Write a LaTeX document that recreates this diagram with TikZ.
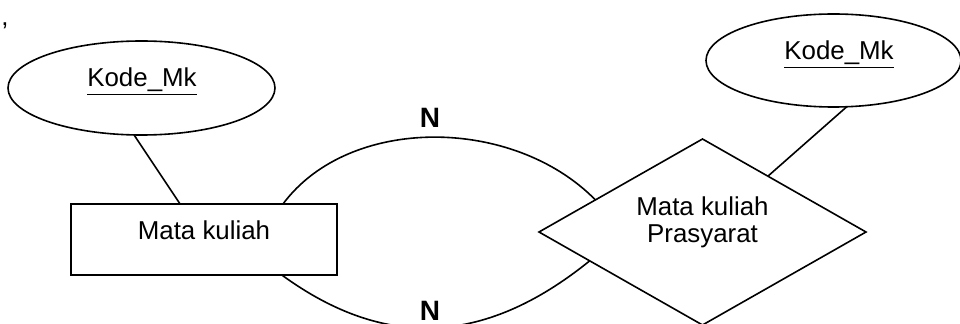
\documentclass[tikz,border=0pt]{standalone}
\usepackage{fontspec}
\setmainfont{Liberation Sans}
\usetikzlibrary{shapes.geometric,calc}

\begin{document}
\begin{tikzpicture}[x=0.75pt,y=-0.75pt,
  conn/.style={line width=1.2pt},
  shapebox/.style={draw,line width=1.2pt,inner sep=0pt,outer sep=0pt},
  attr/.style={shapebox,ellipse},
  entity/.style={shapebox,rectangle},
  relation/.style={shapebox,diamond},
  lbl/.style={font=\fontsize{19.4}{21.2}\selectfont,inner sep=0pt,anchor=base},
  card/.style={font=\fontsize{21}{23}\selectfont\bfseries,inner sep=0pt,anchor=base}]
\useasboundingbox (0,0) rectangle (960,324);

% shapes
\node[attr,minimum width=200.25pt,minimum height=70.5pt] (kl) at (141.5,88) {};
\node[attr,minimum width=191.25pt,minimum height=69.75pt] (kr) at (833.5,60.5) {};
\node[entity,minimum width=199.5pt,minimum height=53.25pt] (mk) at (204,239.5) {};
\node[relation,minimum width=245.25pt,minimum height=139.5pt] (pr) at (702.5,232) {};

% texts
\node[lbl,anchor=base west] (cm) at (1,26) {,};
\node[lbl] (tkl) at (142,87) {\underline{Kode\_Mk}};
\node[lbl] (tkr) at (839,60) {\underline{Kode\_Mk}};
\node[lbl] (tmk) at (204,239) {Mata kuliah};
\node[lbl] (tp1) at (702.5,215) {Mata kuliah};
\node[lbl] (tp2) at (702.5,243) {Prasyarat};
\node[card] (n1) at (430,128) {N};
\node[card] (n2) at (430,320.5) {N};

% attribute links
\draw[conn] (kl.-99) -- ($(mk.north west)!0.41!(mk.north east)$);
\draw[conn] (kr.-74) -- ($(pr.north)!0.40!(pr.east)$);

% recursive relationship arcs
\draw[conn] ($(mk.north west)!0.797!(mk.north east)$)
  .. controls (349,115) and (513,116) .. ($(pr.west)!0.345!(pr.north)$);
\draw[conn] ($(mk.south west)!0.7925!(mk.south east)$)
  .. controls (382,348) and (482,348) .. ($(pr.west)!0.31!(pr.south)$);
\end{tikzpicture}
\end{document}
